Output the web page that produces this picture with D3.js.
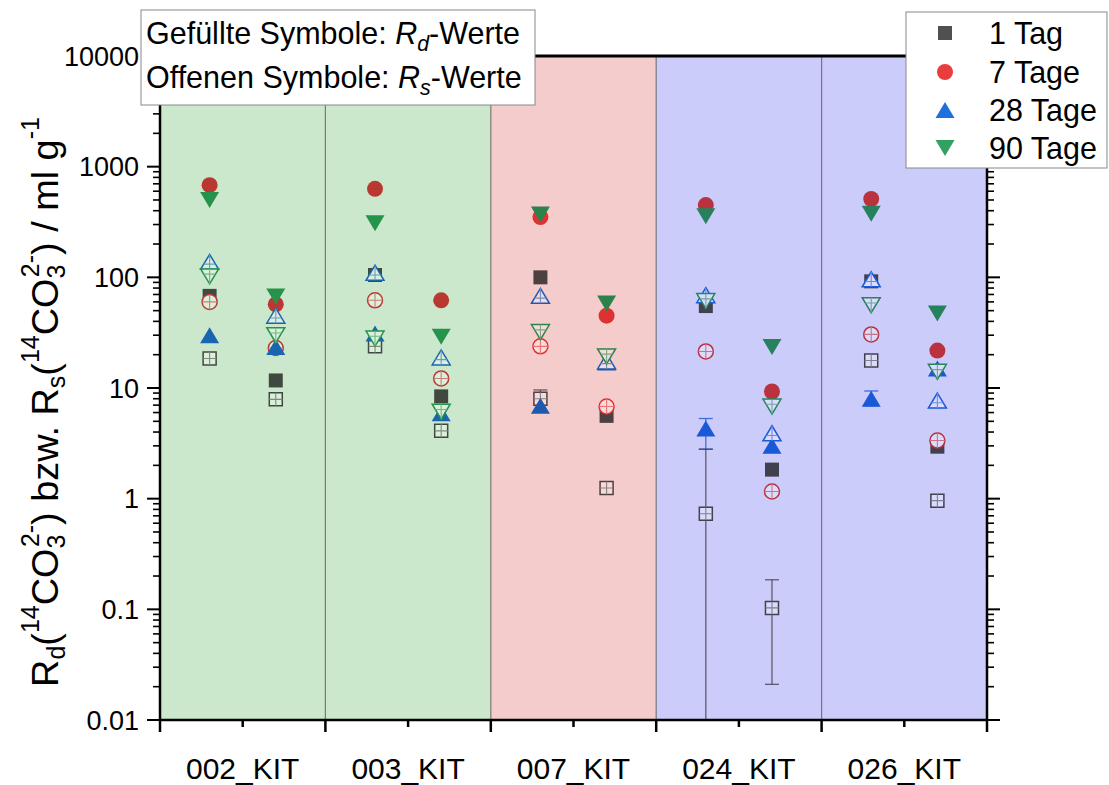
<!DOCTYPE html>
<html><head><meta charset="utf-8">
<script src="https://cdn.jsdelivr.net/npm/d3@7"></script>
<style>body{margin:0;background:#fff} svg{display:block;font-family:Arial,"Liberation Sans",sans-serif}</style>
</head><body><svg id="c" width="1109" height="785"></svg>
<script>
// ---------- data ----------
const categories = ["002_KIT","003_KIT","007_KIT","024_KIT","026_KIT"];
const columnsPerCategory = [0, 1];
const categoryBackgrounds = ["#cce8cc","#cce8cc","#f4cccc","#ccccfa","#ccccfa"];
const yTickValues = [0.01, 0.1, 1, 10, 100, 1000, 10000];
const yTickLabels = ["0.01","0.1","1","10","100","1000","10000"];
const seriesNames = ["1 Tag","7 Tage","28 Tage","90 Tage"];
const seriesColors = ["#505050","#e83e3e","#1f6fdc","#2ea25e"];
const seriesShapes = ["square","circle","triUp","triDown"];

// columns: 002a, 002b, 003a, 003b, 007a, 007b, 024a, 024b, 026a, 026b
const Rd_1d  = [68, 11.7, 105, 8.4, 100, 5.6, 55, 1.83, 92, 2.95];
const Rs_1d  = [18.5, 7.9, 23.8, 4.1, 8.0, 1.25, 0.73, 0.103, 17.7, 0.96];
const Rd_7d  = [680, 57, 630, 62, 350, 45, 450, 9.3, 510, 21.8];
const Rs_7d  = [60, 23, 62, 12.2, 23.8, 6.8, 21.4, 1.16, 30.5, 3.35];
const Rd_28d = [30, 23.5, 31, 5.9, 6.9, 17, 4.3, 3.0, 8.0, 15];
const Rs_28d = [138, 45, 110, 18.9, 68, 17.4, 69, 3.9, 96, 7.7];
const Rd_90d = [500, 67, 308, 29, 370, 58, 356, 23.5, 375, 47];
const Rs_90d = [102, 30, 28, 6.1, 32, 19.3, 61, 6.8, 56, 14];

const errSeries = ["Rs_1d","Rd_28d","Rs_1d","Rs_1d","Rd_28d"];
const errColumn = [4, 6, 6, 7, 8];
const errLow    = [6.1, 2.8, 0.001, 0.021, 6.9];
const errHigh   = [9.6, 5.3, 2.8, 0.185, 9.4];

const seriesTable = {
  Rd_1d:  {vals: Rd_1d,  s: 0, open: false},
  Rs_1d:  {vals: Rs_1d,  s: 0, open: true},
  Rd_7d:  {vals: Rd_7d,  s: 1, open: false},
  Rs_7d:  {vals: Rs_7d,  s: 1, open: true},
  Rd_28d: {vals: Rd_28d, s: 2, open: false},
  Rs_28d: {vals: Rs_28d, s: 2, open: true},
  Rd_90d: {vals: Rd_90d, s: 3, open: false},
  Rs_90d: {vals: Rs_90d, s: 3, open: true}
};
const drawOrder = ["Rd_1d","Rs_1d","Rd_7d","Rs_7d","Rd_28d","Rs_28d","Rd_90d","Rs_90d"];

// ---------- layout ----------
const L = 160, R = 987, T = 56, B = 720;
const svg = d3.select("#c");
const x = d3.scaleBand().domain(categories).range([L, R]).paddingInner(0).paddingOuter(0);
const bw = x.bandwidth();
const sub = d3.scalePoint().domain(columnsPerCategory).range([0.3 * bw, 0.7 * bw]);
const y = d3.scaleLog().domain([0.01, 10000]).range([B, T]);

function colX(i) { return x(categories[Math.floor(i / 2)]) + sub(i % 2); }
function colBg(i) { return categoryBackgrounds[Math.floor(i / 2)]; }
function multiply(c, bg) {
  const a = d3.rgb(c), b = d3.rgb(bg);
  return d3.rgb(a.r * b.r / 255, a.g * b.g / 255, a.b * b.b / 255).formatHex();
}

// backgrounds
svg.append("g").selectAll("rect").data(categories).join("rect")
  .attr("x", d => x(d)).attr("y", T).attr("width", bw).attr("height", B - T)
  .attr("fill", (d, i) => categoryBackgrounds[i]);
// separators
svg.append("g").selectAll("line").data(categories.slice(1)).join("line")
  .attr("x1", d => x(d)).attr("x2", d => x(d)).attr("y1", T).attr("y2", B)
  .attr("stroke", "#555").attr("stroke-width", 1.2).attr("stroke-opacity", 0.75);

svg.append("clipPath").attr("id", "clip").append("rect")
  .attr("x", L).attr("y", T).attr("width", R - L).attr("height", B - T);
const plot = svg.append("g").attr("clip-path", "url(#clip)");

// error bars
errSeries.forEach((name, k) => {
  const st = seriesTable[name];
  const i = errColumn[k];
  const cx = colX(i);
  const col = multiply(seriesColors[st.s], colBg(i));
  const g = plot.append("g").attr("stroke", col).attr("stroke-width", 1.3).attr("stroke-opacity", 0.8);
  const yl = Math.min(y(errLow[k]), B + 5), yh = y(errHigh[k]);
  g.append("line").attr("x1", cx).attr("x2", cx).attr("y1", yl).attr("y2", yh);
  g.append("line").attr("x1", cx - 7).attr("x2", cx + 7).attr("y1", yh).attr("y2", yh);
  if (errLow[k] >= 0.01) g.append("line").attr("x1", cx - 7).attr("x2", cx + 7).attr("y1", yl).attr("y2", yl);
});

// marker shapes
function shapePath(shape, open) {
  if (shape === "square") { const h = open ? 6.5 : 7; return `M${-h},${-h}H${h}V${h}H${-h}Z`; }
  if (shape === "circle") { const r = open ? 7.5 : 8; return `M${-r},0A${r},${r} 0 1,1 ${r},0A${r},${r} 0 1,1 ${-r},0Z`; }
  const w = open ? 18 : 19, h = open ? 15 : 16;
  if (shape === "triUp") return `M0,${-h/2}L${w/2},${h/2}L${-w/2},${h/2}Z`;
  return `M0,${h/2}L${w/2},${-h/2}L${-w/2},${-h/2}Z`;
}
function innerPath(shape) {
  if (shape === "square") return "M-6.5,0H6.5M0,-6.5V6.5";
  if (shape === "circle") return "M-7.5,0H7.5M0,-7.5V7.5";
  const w = 18, h = 15, yy = h * 0.15, ww = w * (yy + h / 2) / h / 2;
  if (shape === "triUp") return `M${-ww},${yy}H${ww}M0,${-h/2}V${h/2}`;
  return `M${-ww},${-yy}H${ww}M0,${h/2}V${-h/2}`;
}

drawOrder.forEach(name => {
  const st = seriesTable[name];
  const shape = seriesShapes[st.s];
  const g = plot.append("g");
  st.vals.forEach((v, i) => {
    if (v == null) return;
    const bg = colBg(i);
    const col = multiply(seriesColors[st.s], bg);
    const m = g.append("g").attr("transform", `translate(${colX(i)},${y(v)})`);
    if (!st.open) {
      m.append("path").attr("d", shapePath(shape, false)).attr("fill", col);
    } else {
      const fill = d3.interpolateRgb(bg, "#ffffff")(0.3);
      m.append("path").attr("d", shapePath(shape, true)).attr("fill", fill)
        .attr("stroke", col).attr("stroke-width", 1.5);
      m.append("path").attr("d", innerPath(shape)).attr("fill", "none")
        .attr("stroke", d3.interpolateRgb(col, fill)(0.4)).attr("stroke-width", 1.1);
    }
  });
});

// ---------- axes / frame ----------
const frame = svg.append("g").attr("stroke", "#000");
frame.append("line").attr("x1", L).attr("x2", R).attr("y1", T).attr("y2", T).attr("stroke-width", 3);
frame.append("line").attr("x1", L).attr("x2", L).attr("y1", T).attr("y2", B).attr("stroke-width", 2.5);
frame.append("line").attr("x1", R).attr("x2", R).attr("y1", T).attr("y2", B).attr("stroke-width", 2.5);
frame.append("line").attr("x1", L).attr("x2", R).attr("y1", B).attr("y2", B).attr("stroke-width", 2.5);

const minorVals = [];
for (let e = -2; e < 4; e++) for (let k = 2; k <= 9; k++) minorVals.push(k * Math.pow(10, e));
[[L, -1], [R, 1]].forEach(([ax, dir]) => {
  frame.selectAll(null).data(yTickValues).join("line")
    .attr("x1", ax).attr("x2", ax + dir * 13).attr("y1", d => y(d)).attr("y2", d => y(d)).attr("stroke-width", 2);
  frame.selectAll(null).data(minorVals).join("line")
    .attr("x1", ax).attr("x2", ax + dir * 7).attr("y1", d => y(d)).attr("y2", d => y(d)).attr("stroke-width", 1.6);
});
svg.append("g").selectAll("text").data(yTickValues).join("text")
  .attr("x", 139).attr("y", d => y(d)).attr("dy", "0.36em").attr("text-anchor", "end")
  .attr("font-size", 27).text((d, i) => yTickLabels[i]);

const majorX = categories.map(c => x(c)).concat([R]);
frame.selectAll(null).data(majorX).join("line")
  .attr("x1", d => d).attr("x2", d => d).attr("y1", B).attr("y2", B + 12).attr("stroke-width", 2.5);
frame.selectAll(null).data(categories).join("line")
  .attr("x1", d => x(d) + bw / 2).attr("x2", d => x(d) + bw / 2).attr("y1", B).attr("y2", B + 7).attr("stroke-width", 2.5);
svg.append("g").selectAll("text").data(categories).join("text")
  .attr("x", d => x(d) + bw / 2).attr("y", 779).attr("text-anchor", "middle")
  .attr("font-size", 30).text(d => d);

// y title
const yt = svg.append("text").attr("transform", "translate(58,402) rotate(-90)")
  .attr("text-anchor", "middle").attr("font-size", 36);
function add(t, opt) {
  const s = yt.append("tspan").text(t);
  if (opt === "sub") s.attr("font-size", "0.66em").attr("baseline-shift", "-0.3em");
  if (opt === "sup") s.attr("font-size", "0.66em").attr("baseline-shift", "0.75em");
  return s;
}
add("R"); add("d", "sub"); add("("); add("14", "sup"); add("CO"); add("3", "sub");
add("2-", "sup").attr("dx", "-0.5em"); add(") bzw. R"); add("s", "sub"); add("(");
add("14", "sup"); add("CO"); add("3", "sub"); add("2-", "sup").attr("dx", "-0.5em");
add(") / ml g"); add("-1", "sup");
const len = yt.node().getComputedTextLength();
yt.attr("font-size", 36 * 595 / len);

// annotation box
svg.append("rect").attr("x", 141).attr("y", 10).attr("width", 394).attr("height", 95)
  .attr("fill", "#fff").attr("stroke", "#888").attr("stroke-width", 1);
[["Gefüllte Symbole: ", "d", 44], ["Offenen Symbole: ", "s", 88]].forEach(([pre, s, yy]) => {
  const t = svg.append("text").attr("x", 146).attr("y", yy).attr("font-size", 30.5);
  t.append("tspan").text(pre);
  t.append("tspan").attr("font-style", "italic").text("R");
  t.append("tspan").attr("font-style", "italic").attr("font-size", "0.7em").attr("baseline-shift", "-0.35em").text(s);
  t.append("tspan").text("-Werte");
});

// legend
svg.append("rect").attr("x", 906).attr("y", 12).attr("width", 201).attr("height", 156)
  .attr("fill", "#fff").attr("stroke", "#888").attr("stroke-width", 1);
const legRows = [33, 72, 110, 148];
seriesNames.forEach((n, i) => {
  svg.append("path").attr("transform", `translate(945,${legRows[i]})`)
    .attr("d", shapePath(seriesShapes[i], false)).attr("fill", seriesColors[i]);
  svg.append("text").attr("x", 989).attr("y", legRows[i]).attr("dy", "0.36em")
    .attr("font-size", 30.5).text(n);
});
</script></body></html>
